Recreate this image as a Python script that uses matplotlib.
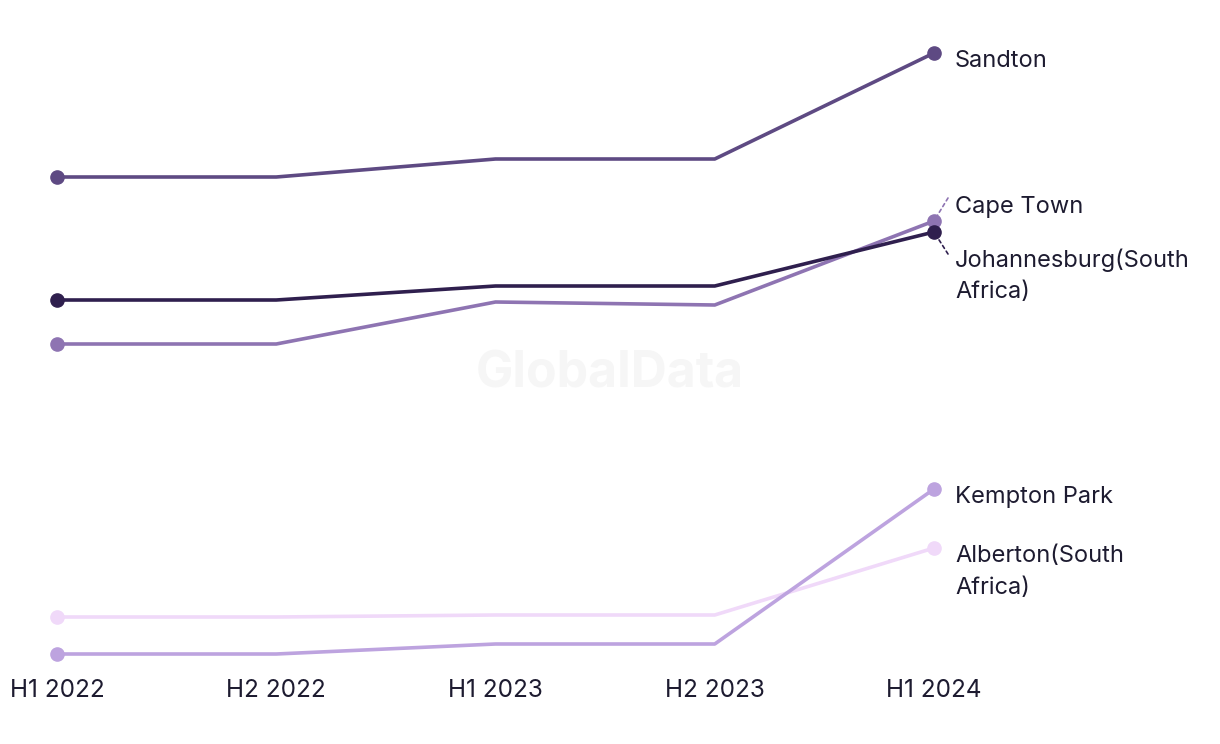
import matplotlib
matplotlib.use("Agg")
import matplotlib.pyplot as plt

periods = ["H1 2022", "H2 2022", "H1 2023", "H2 2023", "H1 2024"]
sandton = [523, 523, 541, 541, 647]
johannesburg = [400, 400, 414, 414, 468]
cape_town = [356, 356, 398, 395, 479]
kempton_park = [46, 46, 56, 56, 211]
alberton = [83, 83, 85, 85, 152]

series = [
    ("Alberton(South\nAfrica)", alberton, "#f0d9f9"),
    ("Kempton Park", kempton_park, "#bda3df"),
    ("Cape Town", cape_town, "#8e74b2"),
    ("Johannesburg(South\nAfrica)", johannesburg, "#2f1f4e"),
    ("Sandton", sandton, "#5e4a83"),
]

W, H = 1220, 744
fig = plt.figure(figsize=(W / 100, H / 100), dpi=100)
left, right = 57 / W, 934 / W
bottom, top = 1 - 654 / H, 1 - 53 / H
ax = fig.add_axes([left, bottom, right - left, top - bottom])
ax.set_xlim(0, len(periods) - 1)
ax.set_ylim(46, 647)
for s in ax.spines.values():
    s.set_visible(False)
ax.set_yticks([])
x = list(range(len(periods)))
ax.set_xticks(x)
ax.set_xticklabels(periods, fontsize=17.5, color="#1d1b30", family="Inter")
ax.tick_params(axis="x", length=0, pad=18)

fig.text(610 / W, 1 - 374 / H, "GlobalData", fontsize=36, fontweight="bold",
         color="#f6f6f6", ha="center", va="center", family="Inter", zorder=0)

for name, vals, col in series:
    ax.plot(x, vals, color=col, lw=2.6, zorder=3, clip_on=False, solid_capstyle="round")
    ax.plot([x[0], x[-1]], [vals[0], vals[-1]], "o", color=col, ms=9.5, zorder=4, clip_on=False)

txt = dict(fontsize=17, color="#1d1b30", family="Inter", linespacing=1.57,
           textcoords="offset pixels", ha="left")
last = x[-1]
ax.annotate("Sandton", (last, sandton[-1]), xytext=(21, -8), va="center", **txt)
ax.annotate("Cape Town", (last, cape_town[-1]), xytext=(21, 14), va="center", **txt)
ax.annotate("Johannesburg(South\nAfrica)", (last, johannesburg[-1]), xytext=(21, -16), va="top", **txt)
ax.annotate("Kempton Park", (last, kempton_park[-1]), xytext=(21, -8), va="center", **txt)
ax.annotate("Alberton(South\nAfrica)", (last, alberton[-1]), xytext=(21, 3), va="top", **txt)

# dotted leader lines for the crowded labels
ax.annotate("", (last, cape_town[-1]), xytext=(14, 23), textcoords="offset pixels",
            arrowprops=dict(arrowstyle="-", color="#8e74b2", lw=1.2, ls=(0, (2, 2)),
                            shrinkA=0, shrinkB=0))
ax.annotate("", (last, johannesburg[-1]), xytext=(14, -22), textcoords="offset pixels",
            arrowprops=dict(arrowstyle="-", color="#2f1f4e", lw=1.2, ls=(0, (2, 2)),
                            shrinkA=0, shrinkB=0))

fig.savefig("out.png", dpi=100, facecolor="white")
